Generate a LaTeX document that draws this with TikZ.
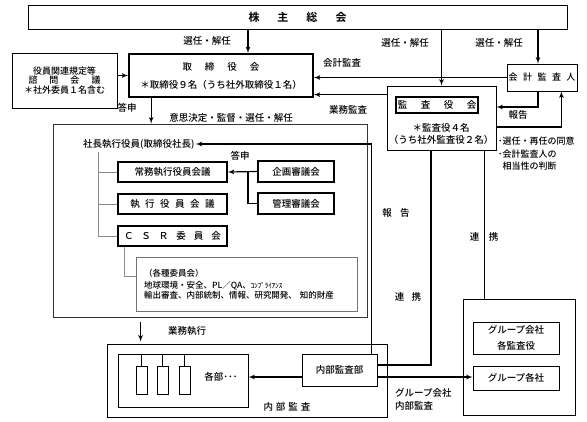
\documentclass[tikz,border=0pt]{standalone}
\usepackage{fontspec}
\setmainfont{Noto Sans CJK JP}[UprightFont={* Medium}, BoldFont={* Bold}]
\usepackage{tikz}
\usetikzlibrary{shapes,arrows}
\tikzstyle{block} = [rectangle, draw, inner sep=0pt, line width=0.8pt, text centered]
\tikzstyle{block2} = [rectangle, draw, inner sep=0pt, line width=1.6pt, text centered]
\tikzstyle{block3} = [rectangle, draw=black!55, line width=0.7pt]
\tikzstyle{line} = [draw, line width=1.2pt, -latex']
\tikzstyle{line1} = [draw, line width=1.2pt]
\tikzstyle{line2} = [draw=black!45, line width=0.7pt]

\begin{document}
\begin{tikzpicture}[x=1pt, y=-1pt, font=\fontsize{9.5}{11}\selectfont]
    \useasboundingbox (0,0) rectangle (587,422);
    % Place nodes
    \node [block, minimum width=539pt, minimum height=24pt, font=\fontsize{11}{13}\selectfont\bfseries] (meeting) at (297.5,17) {株\hspace{18pt}主\hspace{18pt}総\hspace{18pt}会};
    \node [block2, minimum width=184pt, minimum height=43pt, align=center] (board) at (221,75.5) {取\hspace{13pt}締\hspace{13pt}役\hspace{13pt}会\\[7pt]＊取締役９名（うち社外取締役１名）};
    \node [block, minimum width=105pt, minimum height=55pt, align=center, font=\fontsize{9}{9.5}\selectfont] (advisory) at (64.5,80.5) {役員関連規定等\\諮\hspace{12pt}問\hspace{12pt}会\hspace{12pt}議\\＊社外委員１名含む};
    \node [block, minimum width=70pt, minimum height=27pt, font=\fontsize{9}{11}\selectfont] (auditor) at (542,77.5) {会\hspace{5.5pt}計\hspace{5.5pt}監\hspace{5.5pt}査\hspace{5.5pt}人};
    \node [block, minimum width=109pt, minimum height=64pt] (kansa) at (441.5,118) {};
    \node [block2, minimum width=82pt, minimum height=16pt] (kansatitle) at (437,105) {監\hspace{13.5pt}査\hspace{13.5pt}役\hspace{13.5pt}会};
    \node [align=center, inner sep=0pt, font=\fontsize{9.5}{12}\selectfont] (kansatext) at (441,134) {＊監査役４名\\（うち社外監査役２名）};

    \node [block, draw=black!80, minimum width=314pt, minimum height=193pt] (exec) at (210,220.5) {};
    \node [anchor=west, inner sep=1pt] (pres) at (82,144) {社長執行役員(取締役社長)};
    \node [block2, minimum width=109pt, minimum height=20pt] (jomu) at (172.5,172) {常務執行役員会議};
    \node [block2, below of=jomu, node distance=32pt, minimum width=109pt, minimum height=20pt] (shikko) {執\hspace{5.5pt}行\hspace{5.5pt}役\hspace{5.5pt}員\hspace{5.5pt}会\hspace{5.5pt}議};
    \node [block2, below of=shikko, node distance=32pt, minimum width=109pt, minimum height=20pt] (csr) {Ｃ\hspace{8pt}Ｓ\hspace{8pt}Ｒ\hspace{8pt}委\hspace{8pt}員\hspace{8pt}会};
    \node [block2, minimum width=76pt, minimum height=21pt] (kikaku) at (296,171.5) {企画審議会};
    \node [block2, below of=kikaku, node distance=32pt, minimum width=76pt, minimum height=21pt] (kanri) {管理審議会};
    \node [block3, inner sep=8pt, text width=205pt, minimum height=54pt, align=left, font=\fontsize{8.5}{10}\selectfont] (iinkai) at (246.5,284) {（各種委員会）\\[2pt]地球環境・安全、PL／QA、{\fontsize{7}{10}\selectfont ｺﾝﾌﾟﾗｲｱﾝｽ}\\輸出審査、内部統制、情報、研究開発、 知的財産};

    \node [block, minimum width=280pt, minimum height=73pt] (naibu) at (247,380.5) {};
    \node [block, minimum width=130pt, minimum height=53pt] (kakubu) at (183,380.5) {};
    \node [block, line width=0.6pt, minimum width=11pt, minimum height=28pt] (r1) at (141.5,380) {};
    \node [block, line width=0.6pt, minimum width=11pt, minimum height=28pt] (r2) at (162.5,380) {};
    \node [block, line width=0.6pt, minimum width=11pt, minimum height=28pt] (r3) at (184.5,380) {};
    \node (kakubutext) at (221,377) {各部･･･};
    \node [block, minimum width=75pt, minimum height=32pt] (naibubu) at (339.5,370) {内部監査部};
    \node (naibulbl) at (287,407) {内\hspace{3pt}部\hspace{3pt}監\hspace{3pt}査};

    \node [block, minimum width=112pt, minimum height=116pt] (group) at (519,357) {};
    \node [block, minimum width=86pt, minimum height=32pt, align=center] (groupkansa) at (516,338) {グループ会社\\[5pt]各監査役};
    \node [block, minimum width=86pt, minimum height=24pt] (groupkaku) at (516,378) {グループ各社};

    % Labels
    \node (lblA) at (207,41) {選任・解任};
    \node (lblB) at (405,43) {選任・解任};
    \node (lblC) at (499,43) {選任・解任};
    \node (lblD) at (342,63) {会計監査};
    \node (lblE) at (348,110) {業務監査};
    \node (lblF) at (518,115) {報告};
    \node (lblG) at (127,108) {答申};
    \node (lblH) at (231,118) {意思決定・監督・選任・解任};
    \node (lblI) at (240,156) {答申};
    \node [anchor=north west, align=left, inner sep=0pt, font=\fontsize{9}{12.5}\selectfont] (lblJ) at (498,137) {･選任・再任の同意\\･会計監査人の\\\hspace{4.5pt}相当性の判断};
    \node (lblK) at (396,213) {報\hspace{8.5pt}告};
    \node (lblL) at (484,237) {連\hspace{9.5pt}携};
    \node (lblM) at (408,297) {連\hspace{7.5pt}携};
    \node (lblN) at (187,331) {業務執行};
    \node [anchor=west, align=left, inner sep=0pt, font=\fontsize{9.5}{13}\selectfont] (lblP) at (395,399.5) {グループ会社\\内部監査};

    % Draw edges
    \path [line] ([xshift=27pt]board.north |- meeting.south) -- ([xshift=27pt]board.north);
    \path [line] (meeting.south -| kansa.north) -- (kansa.north);
    \path [line] ([xshift=-4pt]auditor.north |- meeting.south) -- ([xshift=-4pt]auditor.north);
    \path [line] (auditor.west) -- (auditor.west -| board.east);
    \path [line] ([yshift=-9pt]kansa.north west) -- ([yshift=-9pt]kansa.north west -| board.east);
    \path [line] ([xshift=-4pt]auditor.south) |- ([yshift=11pt]kansa.east);
    \path [line] ([yshift=-9pt]kansa.east) -| ([xshift=-16pt]auditor.south east);
    \path [line] (advisory.east |- board.west) -- (board.west);
    \path [line] ([xshift=23pt]board.south west) -- ([xshift=23pt]board.south west |- exec.north);
    \path [line] ([xshift=-6pt]naibubu.north east) |- (pres.east);
    \path [line] (kikaku.west) -- (jomu.east);
    \coordinate (split) at (248,171.5);
    \path [line1] (split) |- (kanri.west);
    \coordinate (trunk) at (98,152);
    \path [line2] (trunk) |- (jomu.west);
    \path [line2] (trunk) |- (shikko.west);
    \path [line2] (trunk) |- (csr.west);
    \path [line2] ([xshift=7pt]csr.south west) |- ([yshift=8pt]iinkai.west);
    \path [line] ([xshift=34pt,yshift=22pt]naibu.north west) -- ([xshift=34pt,yshift=2pt]naibu.north west);
    \path [draw, line width=0.6pt] (r1.north) -- (r1.north |- kakubu.north);
    \path [draw, line width=0.6pt] (r2.north) -- (r2.north |- kakubu.north);
    \path [draw, line width=0.6pt] (r3.north) -- (r3.north |- kakubu.north);
    \path [line] ([yshift=-7pt]naibubu.west) -- ([yshift=-7pt]naibubu.west -| kakubu.east);
    \path [line] ([yshift=-7pt]naibubu.east) -- ([yshift=-7pt]naibubu.east -| groupkaku.west);
    \path [line1] ([yshift=5pt]naibubu.east) -| ([xshift=-10.5pt]kansa.south);
    \path [line1] ([xshift=-12pt]kansa.south east) -- ([xshift=-12pt]kansa.south east |- group.north);

\end{tikzpicture}
\end{document}
